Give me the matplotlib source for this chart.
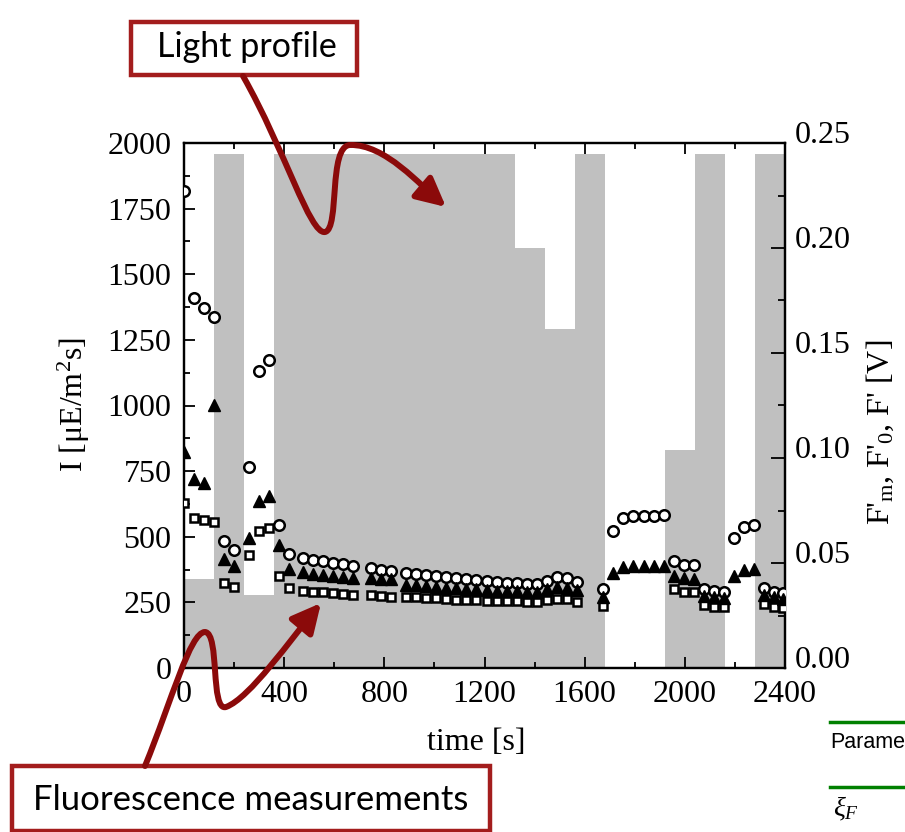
import numpy as np
import matplotlib
matplotlib.use("Agg")
import matplotlib.pyplot as plt
import matplotlib.transforms as mtransforms
from matplotlib.path import Path
from matplotlib.patches import FancyArrowPatch, Rectangle
from matplotlib.lines import Line2D
from matplotlib.ticker import MultipleLocator, FormatStrFormatter

W, H = 905, 832

# light profile: step levels between the time edges
light_edges = [0, 120, 240, 360, 1320, 1440, 1560, 1680, 1920, 2040, 2160, 2280, 2400]
light_levels = [340, 1960, 280, 1960, 1600, 1290, 1960, 0, 830, 1960, 0, 1960]

# fluorescence measurements [V]
t_meas = [0, 40, 80, 120, 160, 200, 260, 300, 340, 380, 420, 475, 515, 555, 595, 635, 675, 745, 785, 825,
          888, 928, 968, 1008, 1048, 1088, 1128, 1168, 1208, 1248, 1288, 1328, 1368, 1408, 1448, 1488, 1528, 1568,
          1675, 1715, 1755, 1795, 1835, 1875, 1915, 1955, 1995, 2035, 2075, 2115, 2155, 2195, 2235, 2275, 2315, 2355, 2393]
fm = [0.227, 0.176, 0.1715, 0.167, 0.0606, 0.0564, 0.0958, 0.1413, 0.1469, 0.0681, 0.0544, 0.0524, 0.0514, 0.0508,
      0.0501, 0.0495, 0.0485, 0.0475, 0.0469, 0.0462,
      0.0451, 0.0448, 0.0443, 0.0438, 0.0431, 0.0429, 0.0424, 0.0419, 0.0414, 0.0410, 0.0407, 0.0405, 0.0402,
      0.0400, 0.0414, 0.0432, 0.0427, 0.0410,
      0.0376, 0.0654, 0.0714, 0.0724, 0.0724, 0.0724, 0.0727, 0.0510, 0.0490, 0.0489, 0.0376, 0.0368, 0.0363,
      0.0618, 0.0673, 0.0682, 0.0380, 0.0363, 0.0356]
f0 = [0.1027, 0.0898, 0.0882, 0.1252, 0.0520, 0.0485, 0.0617, 0.0794, 0.0818, 0.0585, 0.0472, 0.0456, 0.0448,
      0.0443, 0.0438, 0.0433, 0.0429, 0.0429, 0.0426, 0.0424,
      0.0395, 0.0393, 0.0390, 0.0386, 0.0381, 0.0379, 0.0376, 0.0374, 0.0371, 0.0369, 0.0367, 0.0367, 0.0364,
      0.0363, 0.0376, 0.0386, 0.0383, 0.0371,
      0.0340, 0.0454, 0.0482, 0.0486, 0.0486, 0.0486, 0.0486, 0.0438, 0.0427, 0.0422, 0.0343, 0.0337, 0.0332,
      0.0438, 0.0467, 0.0470, 0.0348, 0.0337, 0.0330]
fs = [0.0786, 0.0713, 0.0705, 0.0697, 0.0405, 0.0384, 0.0536, 0.0654, 0.0668, 0.0437, 0.0379, 0.0368, 0.0363,
      0.0360, 0.0356, 0.0351, 0.0348, 0.0347, 0.0343, 0.0340,
      0.0337, 0.0336, 0.0333, 0.0332, 0.0329, 0.0326, 0.0324, 0.0322, 0.0320, 0.0319, 0.0318, 0.0317, 0.0316,
      0.0316, 0.0324, 0.0329, 0.0329, 0.0313,
      0.0295, np.nan, np.nan, np.nan, np.nan, np.nan, np.nan, 0.0375, 0.0363, 0.0360, 0.0300, 0.0292, 0.0289,
      np.nan, np.nan, np.nan, 0.0303, 0.0289, 0.0284]

plt.rcParams['font.family'] = 'Liberation Serif'
plt.rcParams['mathtext.fontset'] = 'custom'
plt.rcParams['mathtext.rm'] = 'Liberation Serif'
plt.rcParams['mathtext.it'] = 'Liberation Serif:italic'


def fpos(x, y):
    # image pixel -> figure fraction
    return x / W, 1 - y / H


fig = plt.figure(figsize=(W / 100, H / 100), dpi=100)
ax = fig.add_axes([184 / W, 1 - 668 / H, 601 / W, 525 / H])

ax.bar(light_edges[:-1], light_levels, width=np.diff(light_edges), align='edge',
       color='#c0c0c0', linewidth=0, zorder=1)
ax.set_xlim(0, 2400)
ax.set_ylim(0, 2000)
ax.xaxis.set_major_locator(MultipleLocator(400))
ax.xaxis.set_minor_locator(MultipleLocator(200))
ax.yaxis.set_major_locator(MultipleLocator(250))
ax.yaxis.set_minor_locator(MultipleLocator(125))
ax.tick_params(which='both', direction='in', top=True, right=True, width=1.3, labelsize=23)
ax.tick_params(which='major', length=8, pad=9)
ax.tick_params(which='minor', length=4)
for s in ax.spines.values():
    s.set_linewidth(1.6)

ax2 = ax.twinx()
ax2.set_ylim(0, 0.25)
ax2.yaxis.set_major_locator(MultipleLocator(0.05))
ax2.yaxis.set_minor_locator(MultipleLocator(0.025))
ax2.yaxis.set_major_formatter(FormatStrFormatter('%.2f'))
ax2.tick_params(which='both', direction='in', width=1.3, labelsize=23)
ax2.tick_params(which='major', length=10, pad=7)
ax2.tick_params(which='minor', length=5)
for s in ax2.spines.values():
    s.set_linewidth(1.6)
shift = mtransforms.ScaledTranslation(0, 0.11, fig.dpi_scale_trans)
for lab in ax2.get_yticklabels():
    lab.set_transform(lab.get_transform() + shift)

ax2.plot(t_meas, fm, 'o', ls='none', mfc='white', mec='black', ms=7.6, mew=1.8, zorder=3)
ax2.plot(t_meas, fs, 's', ls='none', mfc='white', mec='black', ms=6.3, mew=1.8, zorder=4)
ax2.plot(t_meas, f0, '^', ls='none', mfc='black', mec='black', ms=8.6, mew=1.0, zorder=5)

fig.text(*fpos(476, 742), 'time [s]', ha='center', va='center', fontsize=23)
fig.text(*fpos(74, 405), 'I [\u03bcE/m$^{2}$s]', ha='center', va='center', rotation=90, fontsize=23)
fig.text(*fpos(880, 432), r"F$'_{\mathrm{m}}$, F$'_{0}$, F' [V]", ha='center', va='center',
         rotation=90, fontsize=23)

# annotation boxes
box_col = '#a31d1d'
arrow_col = '#8b0a0a'
x0, y0 = fpos(131, 75)
x1, y1 = fpos(357, 22)
fig.add_artist(Rectangle((x0, y0), x1 - x0, y1 - y0, transform=fig.transFigure,
                         facecolor='white', edgecolor=box_col, lw=3.2, zorder=10))
fig.text(*fpos(247, 47), 'Light profile', ha='center', va='center', fontsize=24.5,
         family='Lato', zorder=11)

x0, y0 = fpos(12, 831)
x1, y1 = fpos(490, 766)
fig.add_artist(Rectangle((x0, y0), x1 - x0, y1 - y0, transform=fig.transFigure,
                         facecolor='white', edgecolor=box_col, lw=3.2, zorder=10))
fig.text(*fpos(251, 800), 'Fluorescence measurements', ha='center', va='center', fontsize=25,
         family='Lato', zorder=11)

C = Path.CURVE4
codes = [Path.MOVETO] + [C] * 9
top_pts = [(243, 76), (285, 150), (310, 235), (325, 232),
           (340, 229), (328, 146), (350, 145),
           (385, 144), (420, 185), (446, 207)]
bot_pts = [(145, 766), (172, 700), (190, 632), (205, 632),
           (220, 633), (210, 712), (226, 707),
           (250, 698), (290, 640), (321, 603)]
for pts in (top_pts, bot_pts):
    path = Path([fpos(*p) for p in pts], codes)
    arr = FancyArrowPatch(path=path, arrowstyle='-|>,head_length=0.7,head_width=0.35',
                          mutation_scale=25, color=arrow_col, lw=4.3, transform=fig.transFigure,
                          zorder=12)
    fig.add_artist(arr)

# fragment of a neighbouring table
for yy in (722, 787):
    fig.add_artist(Line2D([830 / W, 1.0], [1 - yy / H] * 2, transform=fig.transFigure,
                          color='#008000', lw=2.5))
fig.text(*fpos(830, 742), 'Parame', ha='left', va='center', fontsize=15.5,
         family='Liberation Sans')
fig.text(*fpos(833, 816), r'$\xi_F$', ha='left', va='baseline', fontsize=20,
         transform=fig.transFigure)

fig.savefig('out.png', dpi=100)
